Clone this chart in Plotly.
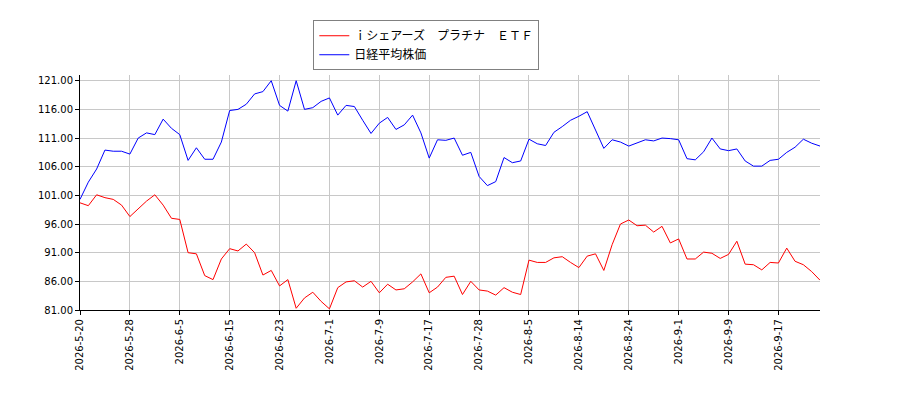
import plotly.graph_objects as go

# trading days (Japanese market, holidays skipped)
dates = [
    "2026-5-20", "2026-5-21", "2026-5-22", "2026-5-25", "2026-5-26", "2026-5-27", "2026-5-28", "2026-5-29",
    "2026-6-1", "2026-6-2", "2026-6-3", "2026-6-4", "2026-6-5", "2026-6-8", "2026-6-9", "2026-6-10",
    "2026-6-11", "2026-6-12", "2026-6-15", "2026-6-16", "2026-6-17", "2026-6-18", "2026-6-19", "2026-6-22",
    "2026-6-23", "2026-6-24", "2026-6-25", "2026-6-26", "2026-6-29", "2026-6-30",
    "2026-7-1", "2026-7-2", "2026-7-3", "2026-7-6", "2026-7-7", "2026-7-8", "2026-7-9", "2026-7-10",
    "2026-7-13", "2026-7-14", "2026-7-15", "2026-7-16", "2026-7-17", "2026-7-21", "2026-7-22", "2026-7-23",
    "2026-7-24", "2026-7-27", "2026-7-28", "2026-7-29", "2026-7-30", "2026-7-31",
    "2026-8-3", "2026-8-4", "2026-8-5", "2026-8-6", "2026-8-7", "2026-8-10", "2026-8-12", "2026-8-13",
    "2026-8-14", "2026-8-17", "2026-8-18", "2026-8-19", "2026-8-20", "2026-8-21", "2026-8-24", "2026-8-25",
    "2026-8-26", "2026-8-27", "2026-8-28", "2026-8-31",
    "2026-9-1", "2026-9-2", "2026-9-3", "2026-9-4", "2026-9-7", "2026-9-8", "2026-9-9", "2026-9-10",
    "2026-9-11", "2026-9-14", "2026-9-15", "2026-9-16", "2026-9-17", "2026-9-18", "2026-9-24", "2026-9-25",
    "2026-9-28", "2026-9-29",
]

# iシェアーズ プラチナ ETF (relative, start = 100)
etf = [
    99.7, 99.2, 101.1, 100.6, 100.3, 99.3, 97.3, 98.7, 100.0, 101.1,
    99.3, 97.0, 96.8, 91.0, 90.8, 87.0, 86.3, 89.9, 91.7, 91.3,
    92.5, 91.0, 87.1, 87.9, 85.2, 86.3, 81.3, 83.1, 84.1, 82.5,
    81.2, 84.9, 85.9, 86.1, 85.0, 86.0, 84.0, 85.5, 84.5, 84.7,
    85.9, 87.3, 84.0, 85.0, 86.7, 86.9, 83.7, 86.0, 84.5, 84.3,
    83.6, 84.9, 84.1, 83.7, 89.7, 89.3, 89.3, 90.1, 90.3, 89.3,
    88.4, 90.4, 90.8, 87.9, 92.4, 96.0, 96.7, 95.7, 95.8, 94.6,
    95.6, 92.7, 93.4, 89.9, 89.9, 91.1, 90.9, 90.0, 90.7, 93.0,
    89.0, 88.9, 88.0, 89.3, 89.2, 91.8, 89.5, 88.9, 87.7, 86.2,
]

# 日経平均株価 (relative, start = 100)
nikkei = [
    100.3, 103.3, 105.6, 108.9, 108.7, 108.7, 108.2, 111.0, 111.9, 111.6,
    114.3, 112.7, 111.6, 107.1, 109.3, 107.3, 107.3, 110.3, 115.8, 116.0,
    116.9, 118.7, 119.1, 121.0, 116.7, 115.7, 121.0, 116.0, 116.3, 117.4,
    118.0, 115.0, 116.7, 116.5, 114.1, 111.8, 113.6, 114.6, 112.5, 113.3,
    115.0, 111.9, 107.5, 110.7, 110.6, 111.0, 108.0, 108.5, 104.3, 102.7,
    103.4, 107.6, 106.7, 107.0, 110.8, 110.0, 109.7, 112.0, 113.0, 114.1,
    114.8, 115.6, 112.4, 109.2, 110.7, 110.3, 109.6, 110.1, 110.7, 110.5,
    111.0, 110.9, 110.7, 107.4, 107.2, 108.6, 111.0, 109.1, 108.8, 109.1,
    107.0, 106.1, 106.1, 107.1, 107.3, 108.5, 109.4, 110.8, 110.1, 109.6,
]

tick_dates = dates[::6]
y_ticks = [81, 86, 91, 96, 101, 106, 111, 116, 121]

fig = go.Figure()
fig.add_trace(go.Scatter(x=dates, y=etf, mode="lines", name="ｉシェアーズ　プラチナ　ＥＴＦ",
                         line=dict(color="red", width=1)))
fig.add_trace(go.Scatter(x=dates, y=nikkei, mode="lines", name="日経平均株価",
                         line=dict(color="blue", width=1)))

# the page body adds an 8px offset, so the figure is a bit smaller than the window
fig.update_layout(
    width=892, height=392,
    margin=dict(l=72, r=80, t=62, b=90),
    paper_bgcolor="white", plot_bgcolor="white",
    font=dict(family="DejaVu Sans, Noto Sans CJK JP", size=10, color="black"),
    showlegend=True,
    legend=dict(
        x=0.468, y=1.233, xanchor="center", yanchor="top",
        bgcolor="white", bordercolor="#808080", borderwidth=1,
        font=dict(family="Noto Sans CJK JP", size=12),
        tracegroupgap=0,
    ),
)
fig.update_xaxes(
    type="category", range=[0, len(dates) - 1],
    tickmode="array", tickvals=tick_dates, ticktext=tick_dates,
    tickangle=-90, ticks="outside", ticklen=4, tickcolor="black",
    showgrid=True, gridcolor="#c8c8c8", gridwidth=1,
    showline=True, linecolor="black", linewidth=1,
    zeroline=False,
)
fig.update_yaxes(
    range=[81, 122.0],
    tickmode="array", tickvals=y_ticks, ticktext=[f"{v:.2f}" for v in y_ticks],
    ticks="outside", ticklen=4, tickcolor="black",
    showgrid=True, gridcolor="#c8c8c8", gridwidth=1,
    showline=True, linecolor="black", linewidth=1,
    zeroline=False,
)

fig.write_html("out.html")
